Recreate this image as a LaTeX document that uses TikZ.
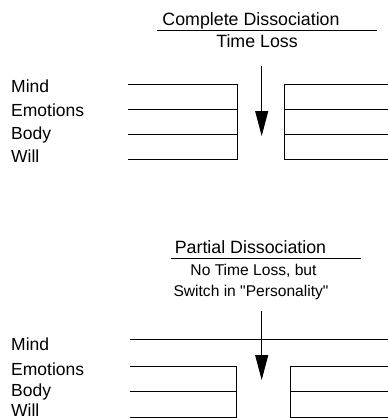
\documentclass[tikz,border=0pt]{standalone}
\usepackage{fontspec}
\setmainfont{Liberation Sans}[Ligatures=TeXOff]
\usetikzlibrary{arrows.meta}
\begin{document}
\begin{tikzpicture}[x=1pt,y=-1pt,
  lbl/.style={anchor=base west,inner sep=0pt,font=\fontsize{17.5}{20}\selectfont},
  ttl/.style={anchor=base,inner sep=0pt,font=\fontsize{17.8}{20}\selectfont},
  sub/.style={anchor=base,inner sep=0pt,font=\fontsize{15.6}{18}\selectfont},
  ln/.style={line width=0.9pt},
  rule/.style={line width=0.9pt},
  darrow/.style={line width=0.9pt,-{Triangle[length=25pt,width=13pt]}}]
\useasboundingbox (0,0) rectangle (388,418);
% ---------- top: complete dissociation ----------
\node[ttl] (t1) at (251,25) {Complete Dissociation};
\draw[rule] (157,30) -- (377,30);
\node[ttl] (t1s) at (257,47.6) {Time Loss};
\coordinate (a1s) at (261.7,66);
\coordinate (a1e) at (261.7,136);
\draw[darrow] (a1s) -- (a1e);
\node[lbl] (m1) at (11,92.8) {Mind};
\node[lbl] (e1) at (11,116.6) {Emotions};
\node[lbl] (b1) at (11,139.3) {Body};
\node[lbl] (w1) at (11,162) {Will};
% left block
\draw[ln] (128,84) -- (237.7,84) -- (237.7,159) -- (128,159);
\draw[ln] (128,109) -- (237.7,109);
\draw[ln] (128,134.2) -- (237.7,134.2);
% right block
\draw[ln] (390,84) -- (284.3,84) -- (284.3,159) -- (390,159);
\draw[ln] (284.3,109) -- (390,109);
\draw[ln] (284.3,134.2) -- (390,134.2);
% ---------- bottom: partial dissociation ----------
\node[ttl] (t2) at (250.5,253.3) {Partial Dissociation};
\draw[rule] (171,258.3) -- (360.7,258.3);
\node[sub] (t2a) at (253.5,275.3) {No Time Loss, but};
\node[sub] (t2b) at (251,296) {Switch in "Personality"};
\coordinate (a2s) at (261.7,311);
\coordinate (a2e) at (261.7,380);
\draw[ln] (129.5,339.3) -- (390,339.3);
\draw[darrow] (a2s) -- (a2e);
\node[lbl] (m2) at (11,350) {Mind};
\node[lbl] (e2) at (11,375) {Emotions};
\node[lbl] (b2) at (11,396.3) {Body};
\node[lbl] (w2) at (11,416.3) {Will};
% left block
\draw[ln] (129.5,366) -- (236.3,366) -- (236.3,417) -- (129.5,417);
\draw[ln] (129.5,391.3) -- (236.3,391.3);
% right block
\draw[ln] (390,366) -- (290.5,366) -- (290.5,417) -- (390,417);
\draw[ln] (290.5,391.3) -- (390,391.3);
\end{tikzpicture}
\end{document}
